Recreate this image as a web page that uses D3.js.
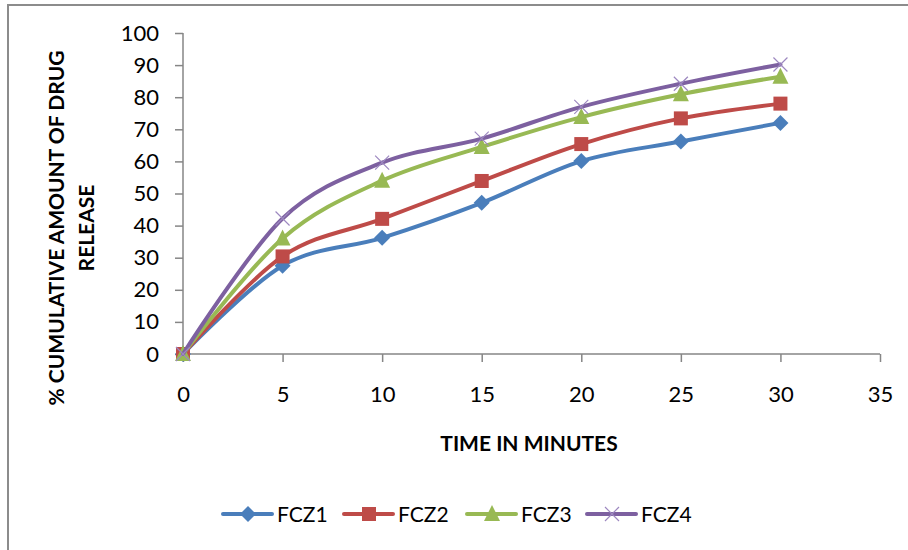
<!DOCTYPE html>
<html>
<head>
<meta charset="utf-8">
<script src="https://cdn.jsdelivr.net/npm/d3@7"></script>
<style>
  body { margin: 0; background: #fff; }
  svg text { font-family: Lato, "Open Sans", sans-serif; fill: #000; }
</style>
</head>
<body>
<svg id="chart" width="908" height="550"></svg>
<script>
// time points (minutes)
const times = [0, 5, 10, 15, 20, 25, 30]
const fcz1 = [0, 27.5, 36.2, 47.1, 60.1, 66.2, 72]
const fcz2 = [0, 30.4, 42.1, 53.9, 65.4, 73.4, 78]
const fcz3 = [0, 36, 54, 64.5, 73.8, 80.9, 86.4]
const fcz4 = [0, 42.2, 59.6, 67.1, 77, 84.2, 90.2]
const seriesNames = ['FCZ1', 'FCZ2', 'FCZ3', 'FCZ4']
const xTicks = [0, 5, 10, 15, 20, 25, 30, 35]
const yTicks = [0, 10, 20, 30, 40, 50, 60, 70, 80, 90, 100]

const colors = ['#4a7ebb', '#be4b48', '#98b954', '#7d60a0']
const symbols = ['diamond', 'square', 'triangle', 'cross']
const allSeries = [fcz1, fcz2, fcz3, fcz4]

const svg = d3.select('#chart')

// outer chart border
svg.append('rect').attr('x', 8).attr('y', 5).attr('width', 920).attr('height', 560)
    .attr('fill', 'none').attr('stroke', '#8c8c8c').attr('stroke-width', 2)

const x = d3.scaleLinear().domain([0, 35]).range([183, 880])
const y = d3.scaleLinear().domain([0, 100]).range([354, 33])

//axes
const yAxis = svg.append('g').attr('transform', 'translate(183,0)')
    .call(d3.axisLeft(y).tickValues(yTicks).tickSize(8).tickPadding(16))
const xAxis = svg.append('g').attr('transform', 'translate(0,354)')
    .call(d3.axisBottom(x).tickValues(xTicks).tickSize(8).tickPadding(24))
;[xAxis, yAxis].forEach(a => {
    a.selectAll('path,line').attr('stroke', '#868686').attr('stroke-width', 1.5)
    a.selectAll('text').style('font-size', '22px').style('font-family', 'Lato')
})
xAxis.select('.domain').attr('d', 'M183,0H880')
yAxis.select('.domain').attr('d', 'M0,33V354')

// axis titles
svg.append('text').attr('x', 529).attr('y', 451).attr('text-anchor', 'middle')
    .style('font-size', '21px').style('font-weight', 'bold').text('TIME IN MINUTES')
const yt = svg.append('text').attr('transform', 'translate(64,228) rotate(-90)')
    .attr('text-anchor', 'middle').style('font-size', '21px').style('font-weight', 'bold')
yt.append('tspan').attr('x', 0).attr('y', 0).text('% CUMULATIVE AMOUNT OF DRUG')
yt.append('tspan').attr('x', 0).attr('y', 30).text('RELEASE')

const line = d3.line()
    .x((d, i) => x(times[i]))
    .y(d => y(d))
    .curve(d3.curveCatmullRom.alpha(0))

function marker(g, k, cx, cy) {
    const c = colors[k]
    if (symbols[k] == 'diamond') {
        g.append('path').attr('d', `M${cx},${cy-8}L${cx+8},${cy}L${cx},${cy+8}L${cx-8},${cy}Z`).attr('fill', c)
    } else if (symbols[k] == 'square') {
        g.append('rect').attr('x', cx-7).attr('y', cy-7).attr('width', 14).attr('height', 14).attr('fill', c)
    } else if (symbols[k] == 'triangle') {
        g.append('path').attr('d', `M${cx},${cy-9}L${cx+8},${cy+7}L${cx-8},${cy+7}Z`).attr('fill', c)
    } else {
        g.append('path').attr('d', `M${cx-7},${cy-7}L${cx+7},${cy+7}M${cx+7},${cy-7}L${cx-7},${cy+7}`)
            .attr('stroke', '#9d88c0').attr('stroke-width', 1.2).attr('fill', 'none')
    }
}

allSeries.forEach((vals, k) => {
    const g = svg.append('g')
    g.append('path').attr('d', line(vals)).attr('fill', 'none')
        .attr('stroke', colors[k]).attr('stroke-width', 4).attr('stroke-linecap', 'round')
    vals.forEach((v, i) => marker(g, k, x(times[i]), y(v)))
})

// legend
const legendX = [223, 344, 467, 587]
seriesNames.forEach((name, k) => {
    const g = svg.append('g')
    const lx = legendX[k]
    g.append('line').attr('x1', lx).attr('x2', lx + 49).attr('y1', 514).attr('y2', 514)
        .attr('stroke', colors[k]).attr('stroke-width', 4).attr('stroke-linecap', 'round')
    marker(g, k, lx + 25, 514)
    g.append('text').attr('x', lx + 54).attr('y', 522).style('font-size', '21px').text(name)
})
</script>
</body>
</html>
